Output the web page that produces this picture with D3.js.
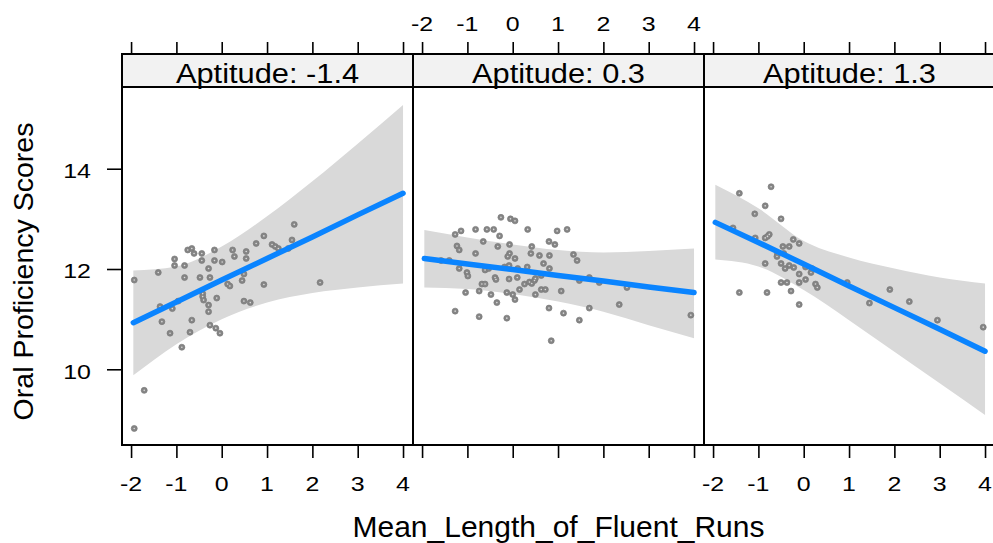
<!DOCTYPE html>
<html>
<head>
<meta charset="utf-8">
<script src="https://cdn.jsdelivr.net/npm/d3@7"></script>
<style>
  html, body { margin: 0; padding: 0; background: #ffffff; }
  svg { display: block; }
  text { font-family: "Liberation Sans", Arial, Helvetica, sans-serif; fill: #000; }
  .tl { transform-box: fill-box; transform-origin: 50% 50%; transform: scaleX(1.28); }
  .tly { transform-box: fill-box; transform-origin: 100% 50%; transform: scaleX(1.28); }
  .st { transform-box: fill-box; transform-origin: 50% 50%; transform: scaleX(1.12); }
</style>
</head>
<body>
<svg id="chart" width="993" height="543"></svg>
<script>
// ---------------- data ----------------
const panelLabels = ["Aptitude: -1.4", "Aptitude: 0.3", "Aptitude: 1.3"];
const xTicks = [-2, -1, 0, 1, 2, 3, 4];
const yTicks = [10, 12, 14];
const xLabel = "Mean_Length_of_Fluent_Runs";
const yLabel = "Oral Proficiency Scores";

// x positions where the fitted line and confidence band were read
const fitX = [-1.95, -1, 0, 1, 2, 3, 4];

// Panel 1 (Aptitude -1.4)
const fit1 = [10.93, 11.34, 11.78, 12.21, 12.64, 13.08, 13.51];
const lower1 = [9.88, 10.50, 11.00, 11.33, 11.52, 11.63, 11.71];
const upper1 = [11.97, 12.05, 12.45, 13.05, 13.75, 14.50, 15.27];
const points1 = [
  [-1.93,11.78],[-1.71,9.58],[-1.93,8.82],[-1.40,11.93],[-1.36,11.25],[-1.32,10.95],
  [-1.14,10.72],[-1.09,11.21],[-1.04,12.20],[-1.04,12.07],[-0.96,11.36],[-0.88,10.44],
  [-0.82,12.07],[-0.82,11.83],[-0.75,12.38],[-0.66,12.41],[-0.61,12.31],[-0.70,10.74],
  [-0.66,10.98],[-0.48,11.83],[-0.44,12.31],[-0.44,12.17],[-0.42,11.51],[-0.42,11.45],
  [-0.40,11.38],[-0.29,12.01],[-0.29,11.28],[-0.29,11.15],[-0.26,11.83],[-0.26,10.88],
  [-0.16,12.38],[-0.16,12.17],[-0.13,10.82],[-0.11,11.42],[-0.04,10.72],[0.01,12.14],
  [0.13,11.70],[0.18,11.66],[0.24,12.38],[0.28,12.25],[0.45,11.77],[0.49,11.90],
  [0.49,11.36],[0.54,12.35],[0.54,12.21],[0.63,11.33],[0.76,12.51],[0.93,12.66],
  [0.93,11.69],[1.11,12.49],[1.18,12.45],[1.25,12.41],[1.47,12.41],[1.55,12.58],
  [1.60,12.89],[2.17,11.73]
];

// Panel 2 (Aptitude 0.3)
const fit2 = [12.21, 12.10, 11.99, 11.87, 11.76, 11.64, 11.53];
const lower2 = [11.63, 11.60, 11.50, 11.35, 11.15, 10.88, 10.62];
const upper2 = [12.78, 12.63, 12.49, 12.38, 12.33, 12.36, 12.41];
const points2 = [
  [-0.26,13.03],[-0.05,13.00],[0.05,12.96],[-1.27,12.69],[-1.14,12.76],[-0.82,12.79],
  [-0.57,12.79],[-0.42,12.79],[0.33,12.79],[0.98,12.76],[1.20,12.79],[-0.29,12.66],
  [-0.65,12.55],[-1.23,12.46],[-1.18,12.38],[-0.33,12.45],[-0.07,12.49],[0.42,12.45],
  [0.80,12.55],[0.93,12.49],[-0.82,12.31],[-0.07,12.31],[-0.11,12.25],[0.05,12.21],
  [0.40,12.31],[0.59,12.27],[0.81,12.27],[1.34,12.29],[1.42,12.17],[-1.58,12.17],
  [-1.40,12.17],[-1.18,12.01],[-1.01,11.93],[-0.99,11.86],[-0.61,11.98],[-0.53,12.01],
  [-0.39,11.83],[-0.37,11.79],[-0.18,12.04],[-0.08,12.07],[0.11,12.01],[0.10,11.83],
  [-0.08,11.80],[0.32,12.04],[0.26,11.70],[0.37,11.74],[0.42,11.71],[0.48,11.77],
  [0.50,11.81],[0.63,11.87],[0.68,12.11],[0.81,12.01],[-0.68,11.70],[-0.61,11.70],
  [0.15,11.59],[0.63,11.59],[0.72,11.59],[-1.04,11.53],[-0.74,11.56],[-0.48,11.49],
  [-0.13,11.53],[0.00,11.49],[0.05,11.39],[0.50,11.49],[1.07,11.56],[1.47,11.77],
  [1.69,11.83],[1.91,11.73],[2.52,11.63],[-0.35,11.33],[-1.27,11.16],[-0.74,11.05],
  [-0.13,11.02],[0.80,11.22],[1.12,11.12],[1.47,10.98],[1.69,11.22],[2.35,11.29],
  [0.85,10.57],[3.93,11.08]
];

// Panel 3 (Aptitude 1.3)
const fit3 = [12.93, 12.53, 12.10, 11.66, 11.23, 10.80, 10.36];
const lower3 = [12.19, 12.05, 11.58, 10.98, 10.35, 9.72, 9.09];
const upper3 = [13.68, 13.21, 12.56, 12.23, 12.01, 11.83, 11.71];
const points3 = [
  [-1.42,13.51],[-0.72,13.64],[-0.85,13.26],[-1.08,13.10],[-0.50,13.00],[-1.56,12.82],
  [-1.07,12.62],[-0.85,12.62],[-0.76,12.69],[-0.80,12.65],[-0.23,12.59],[-0.10,12.51],
  [-0.46,12.45],[-0.32,12.45],[-0.58,12.31],[-0.44,12.31],[-0.59,12.25],[-0.85,12.11],
  [-0.50,12.11],[-0.32,12.07],[-0.22,12.03],[-0.41,12.01],[0.04,12.04],[0.18,12.01],
  [0.16,11.93],[-0.10,11.90],[0.04,11.79],[-0.50,11.73],[-0.37,11.73],[-0.10,11.73],
  [0.26,11.70],[0.30,11.63],[-0.28,11.56],[-1.42,11.53],[-0.81,11.53],[-0.10,11.29],
  [0.96,11.73],[1.45,11.32],[1.90,11.59],[2.33,11.35],[2.95,10.98],[3.96,10.84]
];

const fits = [fit1, fit2, fit3];
const lowers = [lower1, lower2, lower3];
const uppers = [upper1, upper2, upper3];
const pointSets = [points1, points2, points3];

// ---------------- layout ----------------
const svg = d3.select("#chart");
const panelW = 291;
const firstLeft = 122;
const stripTop = 54, stripBottom = 87, plotBottom = 445;
const xDomain = [-2.2, 4.22];
const yDomain = [8.49, 15.63];

const y = d3.scaleLinear().domain(yDomain).range([plotBottom, stripBottom]);

const defs = svg.append("defs");

panelLabels.forEach((lab, i) => {
  const left = firstLeft + i * panelW;
  const right = left + panelW;
  const x = d3.scaleLinear().domain(xDomain).range([left, right]);

  defs.append("clipPath").attr("id", "clip" + i)
    .append("rect").attr("x", left).attr("y", stripBottom)
    .attr("width", panelW).attr("height", plotBottom - stripBottom);

  const g = svg.append("g").attr("clip-path", `url(#clip${i})`);

  // confidence band
  const bandData = fitX.map((xv, k) => ({x: xv, lo: lowers[i][k], hi: uppers[i][k]}));
  const area = d3.area()
    .x(d => x(d.x)).y0(d => y(d.lo)).y1(d => y(d.hi))
    .curve(d3.curveMonotoneX);
  g.append("path").datum(bandData).attr("d", area)
    .attr("fill", "#d9d9d9").attr("stroke", "none");

  // points
  const pts = g.append("g");
  pts.selectAll("circle.p").data(pointSets[i]).join("circle")
    .attr("class", "p")
    .attr("cx", d => x(d[0])).attr("cy", d => y(d[1]))
    .attr("r", 3).attr("fill", "#858585").attr("stroke", "#7a7a7a").attr("stroke-width", 0.7);
  pts.selectAll("circle.c").data(pointSets[i]).join("circle")
    .attr("class", "c")
    .attr("cx", d => x(d[0])).attr("cy", d => y(d[1]))
    .attr("r", 0.8).attr("fill", "#dddddd");

  // fitted line
  const lineData = fitX.map((xv, k) => [xv, fits[i][k]]);
  g.append("path").datum(lineData)
    .attr("d", d3.line().x(d => x(d[0])).y(d => y(d[1])))
    .attr("fill", "none").attr("stroke", "#0a84ff")
    .attr("stroke-width", 5.5).attr("stroke-linecap", "round");

  // strip
  svg.append("rect").attr("x", left).attr("y", stripTop)
    .attr("width", panelW).attr("height", stripBottom - stripTop)
    .attr("fill", "#f2f2f2").attr("stroke", "#000").attr("stroke-width", 2);
  svg.append("text").attr("class", "st")
    .attr("x", (left + right) / 2).attr("y", 83.5)
    .attr("text-anchor", "middle").attr("font-size", 27.5)
    .text(lab);

  // panel frame
  svg.append("rect").attr("x", left).attr("y", stripBottom)
    .attr("width", panelW).attr("height", plotBottom - stripBottom)
    .attr("fill", "none").attr("stroke", "#000").attr("stroke-width", 2);

  // top ticks
  const topAxis = svg.append("g").attr("transform", `translate(0,${stripTop - 1})`)
    .call(d3.axisTop(x).tickValues(xTicks).tickSize(11).tickFormat(""));
  topAxis.select(".domain").remove();
  topAxis.selectAll("line").attr("stroke", "#000").attr("stroke-width", 1.6);

  // bottom ticks
  const botAxis = svg.append("g").attr("transform", `translate(0,${plotBottom + 1})`)
    .call(d3.axisBottom(x).tickValues(xTicks).tickSize(12).tickFormat(""));
  botAxis.select(".domain").remove();
  botAxis.selectAll("line").attr("stroke", "#000").attr("stroke-width", 1.6);

  // tick labels: middle panel on top, others at bottom (lattice alternation)
  const labY = (i === 1) ? 31.5 : 491;
  svg.append("g").selectAll("text").data(xTicks).join("text")
    .attr("class", "tl")
    .attr("x", d => x(d)).attr("y", labY)
    .attr("text-anchor", "middle").attr("font-size", 19.5)
    .text(d => String(d));
});

// left y axis
const leftAxis = svg.append("g").attr("transform", `translate(${firstLeft - 1},0)`)
  .call(d3.axisLeft(y).tickValues(yTicks).tickSize(14).tickFormat(""));
leftAxis.select(".domain").remove();
leftAxis.selectAll("line").attr("stroke", "#000").attr("stroke-width", 1.6);
svg.append("g").selectAll("text").data(yTicks).join("text")
  .attr("class", "tly")
  .attr("x", 91).attr("y", d => y(d) + 9.5)
  .attr("text-anchor", "end").attr("font-size", 19.5)
  .text(d => String(d));

// axis titles
svg.append("text")
  .attr("x", firstLeft + 1.5 * panelW).attr("y", 536.5)
  .attr("text-anchor", "middle").attr("font-size", 30)
  .text(xLabel);
svg.append("text")
  .attr("transform", `translate(33,271.5) rotate(-90)`)
  .attr("text-anchor", "middle").attr("font-size", 28.5)
  .text(yLabel);
</script>
</body>
</html>
